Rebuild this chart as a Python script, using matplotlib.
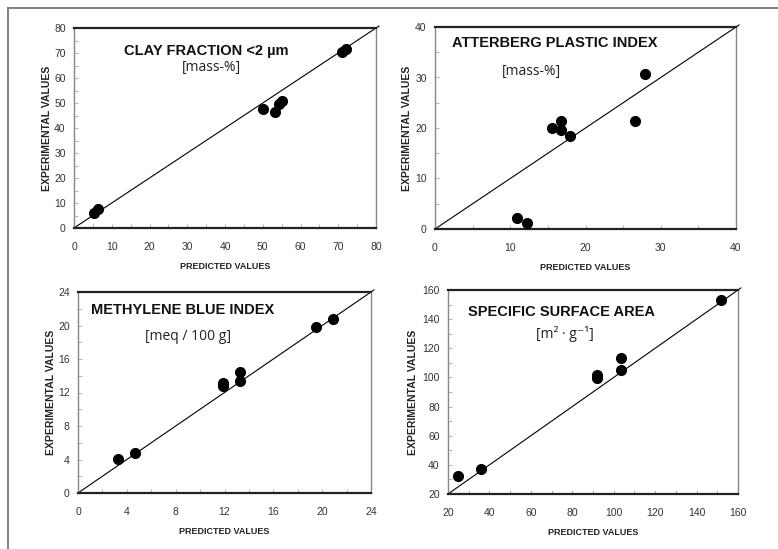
import numpy as np
import matplotlib
matplotlib.use("Agg")
import matplotlib.pyplot as plt
from matplotlib.lines import Line2D
from matplotlib.ticker import MultipleLocator

# ----------------------------------------
# Data (predicted, experimental)
# ----------------------------------------
clay_pred = [5.4, 6.4, 50.0, 53.3, 54.4, 55.1, 70.9, 72.1]
clay_exp = [6.2, 7.7, 47.7, 46.4, 49.5, 50.8, 70.3, 71.5]

plastic_pred = [10.9, 12.2, 15.5, 16.7, 16.8, 18.0, 26.6, 27.9]
plastic_exp = [2.2, 1.2, 20.0, 21.3, 19.7, 18.5, 21.3, 30.7]

mb_pred = [3.25, 4.7, 11.9, 11.9, 13.3, 13.3, 19.5, 20.9]
mb_exp = [4.1, 4.8, 13.1, 12.8, 14.5, 13.4, 19.8, 20.8]

ssa_pred = [25.0, 36.1, 92.1, 92.1, 103.7, 103.7, 152.0]
ssa_exp = [32.1, 37.2, 101.9, 99.4, 113.0, 105.1, 152.9]

panels = [
    # title, unit, x, y, (lo, hi), major, minor, box px (left, right, top, bottom), title pos, unit pos, ylabel x
    ("CLAY FRACTION <2 µm", "[mass-%]", clay_pred, clay_exp, (0, 80), 10, 5,
     (74, 376, 28, 228), (206, 51), (211, 68), 47),
    ("ATTERBERG PLASTIC INDEX", "[mass-%]", plastic_pred, plastic_exp, (0, 40), 10, 5,
     (435, 736, 27, 229), (555, 43), (531, 72), 407),
    ("METHYLENE BLUE INDEX", "[meq / 100 g]", mb_pred, mb_exp, (0, 24), 4, 2,
     (78, 371, 292, 493), (183, 310), (188, 336), 51),
    ("SPECIFIC SURFACE AREA", "[m² · g⁻¹]", ssa_pred, ssa_exp, (20, 160), 20, 10,
     (448, 738, 290, 494), (561, 312), (565, 334), 413),
]

W, H = 778, 549
fig = plt.figure(figsize=(W / 100, H / 100), dpi=100)
fig.patch.set_facecolor("white")

# outer frame (left and top only)
fig.add_artist(Line2D([8 / W, 8 / W], [0, 1 - 8 / H], color="#777777", lw=1.3))
fig.add_artist(Line2D([8 / W, 1], [1 - 8 / H, 1 - 8 / H], color="#777777", lw=1.3))

sans = ["Liberation Sans", "DejaVu Sans"]
unit_font = ["Open Sans", "DejaVu Sans"]

for (title, unit, xs, ys, lim, major, minor, box, tpos, upos, ylab_x) in panels:
    l, r, t, b = box
    ax = fig.add_axes([l / W, 1 - b / H, (r - l) / W, (b - t) / H])
    lo, hi = lim
    ax.plot([lo, hi + (hi - lo) * 0.01], [lo, hi + (hi - lo) * 0.01],
            color="black", lw=0.8, clip_on=False)
    ax.plot(xs, ys, "o", color="black", ms=7, clip_on=False, zorder=3)
    ax.set_xlim(lo, hi)
    ax.set_ylim(lo, hi)
    ax.xaxis.set_major_locator(MultipleLocator(major))
    ax.yaxis.set_major_locator(MultipleLocator(major))
    ax.xaxis.set_minor_locator(MultipleLocator(minor))
    ax.yaxis.set_minor_locator(MultipleLocator(minor))
    ax.tick_params(which="both", direction="in", length=3, width=0.6,
                   color="#aaaaaa", labelsize=7.5, labelcolor="#333333")
    ax.tick_params(axis="x", pad=10)
    ax.tick_params(axis="y", pad=6)
    for lab in ax.get_xticklabels() + ax.get_yticklabels():
        lab.set_family(sans)
    for side in ("left", "right"):
        ax.spines[side].set_color("#888888")
        ax.spines[side].set_linewidth(1.0)
    for side in ("top", "bottom"):
        ax.spines[side].set_color("#222222")
        ax.spines[side].set_linewidth(1.6)

    ax.set_xlabel("PREDICTED VALUES", family=sans, fontweight="bold",
                  fontsize=6.5, color="#222222", labelpad=7)
    fig.text(ylab_x / W, 1 - ((t + b) / 2) / H, "EXPERIMENTAL VALUES",
             rotation=90, ha="center", va="center", family=sans,
             fontweight="bold", fontsize=7.5, color="#222222")

    fig.text(tpos[0] / W, 1 - tpos[1] / H, title, ha="center", va="center",
             family=sans, fontweight="bold", fontsize=10.5, color="#111111")
    fig.text(upos[0] / W, 1 - upos[1] / H, unit, ha="center", va="center",
             family=unit_font, fontsize=10, color="#222222")

fig.savefig("out.png", dpi=100, facecolor="white")
